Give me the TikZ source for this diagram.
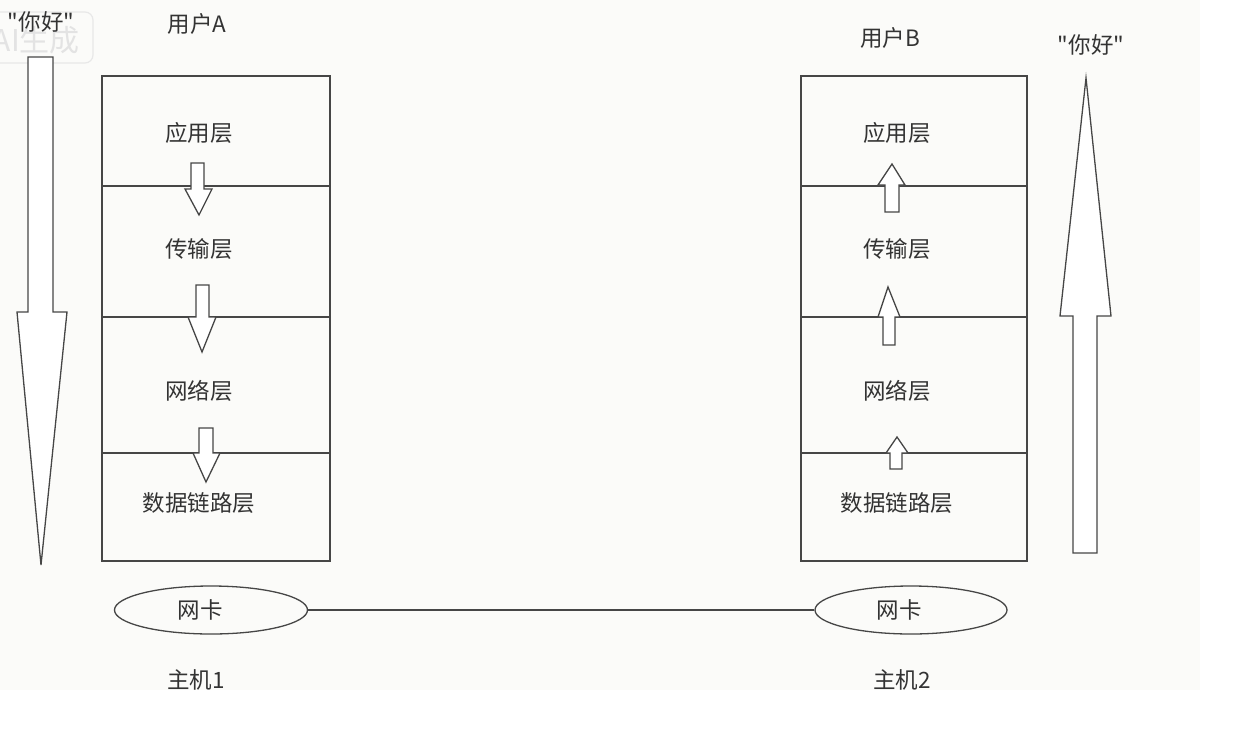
\documentclass[tikz,border=0pt]{standalone}
\usepackage{fontspec}
\newfontfamily\cjk{Noto Sans CJK SC}
\usetikzlibrary{shapes.geometric}
\definecolor{ink}{RGB}{70,70,70}
\definecolor{paper}{RGB}{251,251,249}
\tikzset{
  layer/.style={draw=ink, line width=1.3pt, rectangle, minimum width=228pt, inner sep=0pt, outer sep=0pt},
  lbl/.style={font=\cjk\fontsize{22.5}{25}\selectfont, text=black!80, inner sep=0pt},
  blockarrow/.style={draw=ink, fill=white, line width=1.3pt, line join=miter},
  nic/.style={draw=ink, line width=1.3pt, ellipse, minimum width=192pt, minimum height=48pt, inner sep=0pt},
  link/.style={draw=ink, line width=1.3pt}
}
\begin{document}
\begin{tikzpicture}[x=1pt,y=-1pt]
\useasboundingbox (0,0) rectangle (1236,744);
\fill[white] (0,0) rectangle (1236,744);
\fill[paper] (0,0) rectangle (1200,690);
% watermark
\draw[black!9, line width=1.2pt, rounded corners=8pt] (-20,12) rectangle (93,63);
\node[font=\cjk\fontsize{30}{32}\selectfont, text=black!11, anchor=east, inner sep=0pt] (wm) at (80,40) {AI生成};

% host 1 layers
\node[layer, minimum height=110pt] (a1) at (216,131) {};
\node[layer, minimum height=131pt] (a2) at (216,251.5) {};
\node[layer, minimum height=136pt] (a3) at (216,385) {};
\node[layer, minimum height=108pt] (a4) at (216,507) {};
% host 2 layers
\node[layer, minimum width=226pt, minimum height=110pt] (b1) at (914,131) {};
\node[layer, minimum width=226pt, minimum height=131pt] (b2) at (914,251.5) {};
\node[layer, minimum width=226pt, minimum height=136pt] (b3) at (914,385) {};
\node[layer, minimum width=226pt, minimum height=108pt] (b4) at (914,507) {};

% labels
\node[lbl] (ta1) at (199,133) {应用层};
\node[lbl] (ta2) at (199,249) {传输层};
\node[lbl] (ta3) at (199,391) {网络层};
\node[lbl] (ta4) at (199,503) {数据链路层};
\node[lbl] (tb1) at (897,133) {应用层};
\node[lbl] (tb2) at (897,249) {传输层};
\node[lbl] (tb3) at (897,391) {网络层};
\node[lbl] (tb4) at (897,503) {数据链路层};
\node[lbl] (ua) at (197,24) {用户A};
\node[lbl] (ub) at (890,38) {用户B};
\node[lbl] (hla) at (41,22) {"你好"};
\node[lbl] (hlb) at (1091,45) {"你好"};
\node[lbl] (h1) at (196,680) {主机1};
\node[lbl] (h2) at (902,680) {主机2};

% small arrows down (host 1)
\draw[blockarrow] (191,163) -- (204,163) -- (204,189) -- (212,189) -- (199,215) -- (185,189) -- (191,189) -- cycle;
\draw[blockarrow] (196,285) -- (209,285) -- (209,317) -- (216,317) -- (202,352) -- (188,317) -- (196,317) -- cycle;
\draw[blockarrow] (199,428) -- (213,428) -- (213,453) -- (220,453) -- (206,482) -- (193,453) -- (199,453) -- cycle;
% small arrows up (host 2)
\draw[blockarrow] (885,212) -- (899,212) -- (899,185) -- (905,185) -- (892,164) -- (878,185) -- (885,185) -- cycle;
\draw[blockarrow] (883,345) -- (895,345) -- (895,317) -- (900,317) -- (888,287) -- (878,317) -- (883,317) -- cycle;
\draw[blockarrow] (890,469) -- (902,469) -- (902,453) -- (908,453) -- (897,437) -- (886,453) -- (890,453) -- cycle;

% big arrows
\draw[blockarrow] (28,57) -- (53,57) -- (53,312) -- (67,312) -- (41,565) -- (17,312) -- (28,312) -- cycle;
\draw[blockarrow] (1073,553) -- (1097,553) -- (1097,316) -- (1111,316) -- (1086,78) -- (1060,316) -- (1073,316) -- cycle;

% network cards
\node[nic, minimum width=193pt] (n1) at (211,610) {};
\node[nic, minimum width=192pt] (n2) at (911,610) {};
\node[lbl] (tn1) at (200,610) {网卡};
\node[lbl] (tn2) at (899,610) {网卡};
\draw[link] (n1.east) -- (n2.west);
\end{tikzpicture}
\end{document}
